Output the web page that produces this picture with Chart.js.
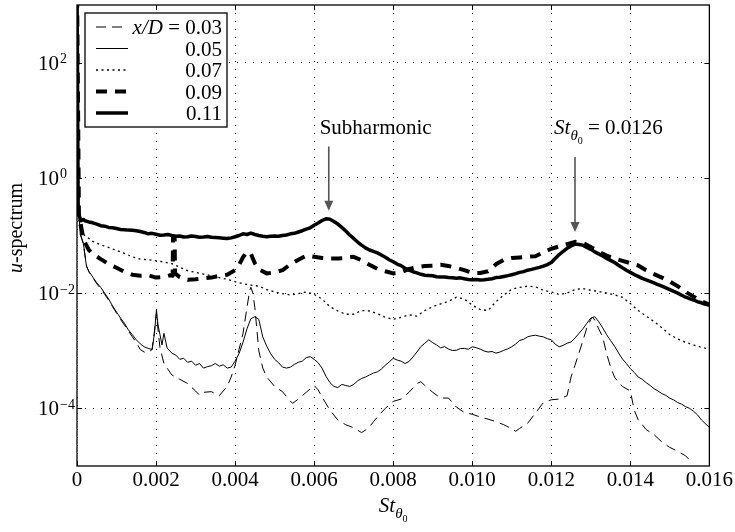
<!DOCTYPE html>
<html>
<head>
<meta charset="utf-8">
<script src="https://cdn.jsdelivr.net/npm/chart.js@4.4.1/dist/chart.umd.min.js"></script>
<style>
    html, body { margin: 0; padding: 0; background: #fff; }
</style>
</head>
<body>
<canvas id="chart" width="735" height="532"></canvas>
<script>
// u-spectra vs St_theta0 as [St, value]
const spec003 = [
    [0, 3000], [0.00004, 0.32], [0.00008, 0.105], [0.00016, 0.071], [0.00024, 0.03], [0.0003, 0.0234],
    [0.0004, 0.0186], [0.0005, 0.0145], [0.0006, 0.012], [0.0007, 0.0095], [0.0008, 0.0076], [0.0009, 0.0058],
    [0.001, 0.0045], [0.0011, 0.0035], [0.0012, 0.0028], [0.0013, 0.0022], [0.0014, 0.00174], [0.0015, 0.0014],
    [0.0016, 0.00105], [0.0017, 0.00095], [0.0018, 0.00093], [0.0019, 0.00105], [0.00196, 0.0022], [0.00201, 0.0045],
    [0.00206, 0.002], [0.0021, 0.00112], [0.0022, 0.0006], [0.0024, 0.00038], [0.0026, 0.00032], [0.0028, 0.00027],
    [0.003, 0.0002], [0.0031, 0.00017], [0.0032, 0.00019], [0.0034, 0.000195], [0.0036, 0.000166], [0.0037, 0.0002],
    [0.0038, 0.00024], [0.0039, 0.00035], [0.004, 0.00056], [0.0041, 0.00105], [0.0042, 0.002], [0.0043, 0.0056],
    [0.00437, 0.0112], [0.0044, 0.0126], [0.00445, 0.01], [0.0045, 0.0056], [0.0046, 0.001], [0.0047, 0.0005],
    [0.0048, 0.00035], [0.005, 0.00024], [0.0052, 0.000195], [0.0054, 0.000132], [0.00546, 0.000123], [0.0056, 0.000145],
    [0.0058, 0.00019], [0.006, 0.00025], [0.0061, 0.00021], [0.0062, 0.000158], [0.0064, 0.000093], [0.0066, 0.000063],
    [0.0068, 0.000052], [0.007, 0.000046], [0.0072, 0.000038], [0.0073, 0.000042], [0.0074, 0.000048], [0.0076, 0.000071],
    [0.0078, 0.0001], [0.008, 0.000132], [0.0082, 0.000145], [0.0084, 0.00019], [0.0086, 0.00027], [0.0087, 0.00029],
    [0.0088, 0.00025], [0.009, 0.00019], [0.0092, 0.000151], [0.0094, 0.000151], [0.0096, 0.000105], [0.0098, 0.000085],
    [0.01, 0.000079], [0.0102, 0.000071], [0.0104, 0.000065], [0.0106, 0.000059], [0.0108, 0.000052], [0.011, 0.000044],
    [0.0111, 0.00004], [0.0112, 0.000045], [0.0114, 0.000055], [0.0116, 0.000083], [0.0118, 0.000126], [0.012, 0.000141],
    [0.0122, 0.000145], [0.0124, 0.000166], [0.0125, 0.00035], [0.0126, 0.00056], [0.0127, 0.00091], [0.0128, 0.0015],
    [0.0129, 0.0025], [0.013, 0.0035], [0.01305, 0.0038], [0.0131, 0.0034], [0.0132, 0.0024], [0.0133, 0.00174],
    [0.0134, 0.00089], [0.0135, 0.00052], [0.0136, 0.00035], [0.0137, 0.00028], [0.0138, 0.00024], [0.014, 0.0002],
    [0.0141, 0.000093], [0.0142, 0.000063], [0.0144, 0.000043], [0.0146, 0.000035], [0.0148, 0.000026], [0.015, 0.000021],
    [0.0152, 0.000018], [0.0154, 0.000015], [0.0155, 0.0000126],
]

const spec005 = [
    [0, 3000], [0.00004, 0.32], [0.00008, 0.11], [0.00016, 0.074], [0.00024, 0.029], [0.0003, 0.024],
    [0.0004, 0.019], [0.0005, 0.0151], [0.0006, 0.0126], [0.0007, 0.01], [0.0008, 0.0079], [0.0009, 0.006],
    [0.001, 0.0047], [0.0011, 0.0037], [0.0012, 0.003], [0.0013, 0.0023], [0.0014, 0.0019], [0.0015, 0.00155],
    [0.0016, 0.00132], [0.0017, 0.00117], [0.0018, 0.0011], [0.0019, 0.00105], [0.00196, 0.002], [0.00201, 0.0051],
    [0.00205, 0.0028], [0.0021, 0.0019], [0.00215, 0.00126], [0.0022, 0.002], [0.00228, 0.00112], [0.0024, 0.00091],
    [0.0025, 0.00084], [0.0026, 0.00071], [0.0027, 0.00074], [0.0028, 0.00063], [0.0029, 0.00066], [0.003, 0.00056],
    [0.0031, 0.0006], [0.0032, 0.0005], [0.0033, 0.00053], [0.0034, 0.00055], [0.0035, 0.0006], [0.0036, 0.00054],
    [0.0037, 0.00057], [0.0038, 0.0005], [0.0039, 0.00052], [0.004, 0.00066], [0.0041, 0.00089], [0.0042, 0.0014],
    [0.0043, 0.0024], [0.0044, 0.0036], [0.0045, 0.0039], [0.0046, 0.0035], [0.0047, 0.00174], [0.0048, 0.0012],
    [0.0049, 0.00089], [0.005, 0.00071], [0.0051, 0.00062], [0.0052, 0.00052], [0.0053, 0.0005], [0.0054, 0.00052],
    [0.0055, 0.00058], [0.0056, 0.00063], [0.0057, 0.00066], [0.0058, 0.00076], [0.0059, 0.00079], [0.006, 0.00071],
    [0.0061, 0.00062], [0.0062, 0.0005], [0.0063, 0.00036], [0.0064, 0.00028], [0.0065, 0.00024], [0.0066, 0.00023],
    [0.0067, 0.00026], [0.0068, 0.00025], [0.0069, 0.00024], [0.007, 0.00026], [0.0071, 0.0003], [0.0072, 0.00033],
    [0.0073, 0.00035], [0.0074, 0.00038], [0.0075, 0.00041], [0.0076, 0.00043], [0.0077, 0.00048], [0.0078, 0.00056],
    [0.0079, 0.00064], [0.008, 0.00074], [0.0081, 0.00069], [0.0082, 0.00066], [0.0083, 0.0006], [0.0084, 0.00065],
    [0.0085, 0.00078], [0.0086, 0.00095], [0.0087, 0.00118], [0.0088, 0.00135], [0.0089, 0.00155], [0.009, 0.00138],
    [0.0091, 0.00126], [0.0092, 0.00112], [0.0093, 0.00118], [0.0094, 0.00107], [0.0095, 0.00101], [0.0096, 0.00102],
    [0.0097, 0.00109], [0.0098, 0.0011], [0.0099, 0.00106], [0.01, 0.00117], [0.0101, 0.00113], [0.0102, 0.00107],
    [0.0103, 0.00099], [0.0104, 0.00095], [0.0105, 0.00097], [0.0106, 0.00091], [0.0107, 0.00095], [0.0108, 0.00102],
    [0.0109, 0.00108], [0.011, 0.00117], [0.0111, 0.00131], [0.0112, 0.00151], [0.0113, 0.00158], [0.0114, 0.00174],
    [0.0115, 0.00182], [0.0116, 0.00186], [0.0117, 0.00179], [0.0118, 0.00174], [0.0119, 0.00162], [0.012, 0.00155],
    [0.0121, 0.0013], [0.0122, 0.00117], [0.0123, 0.00124], [0.0124, 0.00135], [0.0125, 0.00142], [0.0126, 0.00166],
    [0.0127, 0.002], [0.0128, 0.0024], [0.0129, 0.003], [0.013, 0.0037], [0.0131, 0.0039], [0.0132, 0.0032],
    [0.0133, 0.0025], [0.0134, 0.0019], [0.0135, 0.0015], [0.0136, 0.0012], [0.0137, 0.00092], [0.0138, 0.00072],
    [0.0139, 0.0006], [0.014, 0.00049], [0.0141, 0.00042], [0.0142, 0.00035], [0.0143, 0.00032], [0.0144, 0.00028],
    [0.0145, 0.00025], [0.0146, 0.00022], [0.0147, 0.0002], [0.0148, 0.00018], [0.0149, 0.000168], [0.015, 0.00015],
    [0.0151, 0.00014], [0.0152, 0.000126], [0.0153, 0.000118], [0.0154, 0.000107], [0.0155, 0.0001], [0.0156, 0.000089],
    [0.0157, 0.000077], [0.0158, 0.000063], [0.0159, 0.000054], [0.016, 0.000047],
]

const spec007 = [
    [0, 3000], [0.00005, 0.158], [0.0001, 0.112], [0.0002, 0.1], [0.0004, 0.079], [0.0006, 0.069],
    [0.0008, 0.062], [0.001, 0.055], [0.0012, 0.049], [0.0014, 0.0427], [0.0016, 0.039], [0.0018, 0.038],
    [0.002, 0.0363], [0.0022, 0.0347], [0.0024, 0.0324], [0.0026, 0.0282], [0.0028, 0.0245], [0.003, 0.0229],
    [0.0032, 0.0214], [0.0034, 0.02], [0.0036, 0.0186], [0.0038, 0.0174], [0.004, 0.0158], [0.0042, 0.0145],
    [0.0044, 0.0138], [0.0046, 0.0132], [0.0048, 0.0115], [0.005, 0.0105], [0.0052, 0.0098], [0.0054, 0.0093],
    [0.0056, 0.0098], [0.0058, 0.0105], [0.006, 0.0095], [0.0062, 0.0079], [0.0064, 0.0058], [0.0066, 0.0049],
    [0.0068, 0.0043], [0.007, 0.0043], [0.0072, 0.005], [0.0074, 0.0049], [0.0076, 0.0044], [0.0078, 0.0038],
    [0.008, 0.0035], [0.0082, 0.0038], [0.0084, 0.0042], [0.0086, 0.004], [0.0088, 0.005], [0.009, 0.0058],
    [0.0092, 0.0065], [0.0094, 0.0072], [0.0096, 0.0085], [0.0098, 0.0079], [0.01, 0.0062], [0.0102, 0.0052],
    [0.0104, 0.005], [0.0106, 0.0071], [0.0108, 0.0093], [0.011, 0.0117], [0.0112, 0.0126], [0.0114, 0.0132],
    [0.0116, 0.0129], [0.0118, 0.0112], [0.012, 0.0105], [0.0122, 0.0095], [0.0124, 0.01], [0.0126, 0.0115],
    [0.0128, 0.012], [0.013, 0.0112], [0.0132, 0.0107], [0.0134, 0.01], [0.0136, 0.0093], [0.0138, 0.0085],
    [0.014, 0.0066], [0.0142, 0.005], [0.0144, 0.004], [0.0146, 0.0032], [0.0148, 0.0025], [0.015, 0.0019],
    [0.0152, 0.0016], [0.0154, 0.0014], [0.0156, 0.00126], [0.0158, 0.00115], [0.016, 0.00107],
]

const spec009 = [
    [0, 3000], [0.00005, 0.2], [0.00008, 0.178], [0.00016, 0.089], [0.0002, 0.076], [0.0003, 0.056],
    [0.0004, 0.048], [0.0006, 0.039], [0.0008, 0.032], [0.001, 0.0275], [0.0012, 0.0234], [0.0014, 0.0209],
    [0.0016, 0.02], [0.0018, 0.0204], [0.002, 0.0186], [0.0022, 0.019], [0.00236, 0.0204], [0.00242, 0.02],
    [0.00243, 0.093], [0.00247, 0.093], [0.00248, 0.022], [0.0026, 0.019], [0.0028, 0.017], [0.003, 0.0174],
    [0.0032, 0.018], [0.0034, 0.0186], [0.0036, 0.02], [0.0038, 0.0209], [0.004, 0.025], [0.0041, 0.031],
    [0.0042, 0.042], [0.0043, 0.052], [0.0044, 0.048], [0.0045, 0.033], [0.0046, 0.026], [0.0048, 0.022],
    [0.005, 0.0229], [0.0052, 0.025], [0.0054, 0.0316], [0.0056, 0.038], [0.0058, 0.0447], [0.006, 0.0427],
    [0.0062, 0.0407], [0.0064, 0.04], [0.0066, 0.04], [0.0068, 0.0407], [0.007, 0.0427], [0.0072, 0.0372],
    [0.0074, 0.031], [0.0076, 0.0263], [0.0078, 0.024], [0.008, 0.022], [0.0082, 0.0229], [0.0084, 0.0263],
    [0.0086, 0.0282], [0.0088, 0.0295], [0.009, 0.03], [0.0092, 0.031], [0.0094, 0.0295], [0.0096, 0.0275],
    [0.0098, 0.025], [0.01, 0.0224], [0.0102, 0.0224], [0.0104, 0.024], [0.0106, 0.0316], [0.0108, 0.038],
    [0.011, 0.0407], [0.0112, 0.0417], [0.0114, 0.0427], [0.0116, 0.0437], [0.0118, 0.0513], [0.012, 0.0589],
    [0.0122, 0.0646], [0.0124, 0.0708], [0.0126, 0.0776], [0.0128, 0.0741], [0.013, 0.063], [0.0132, 0.0525],
    [0.0134, 0.0447], [0.0136, 0.04], [0.0138, 0.0363], [0.014, 0.0331], [0.0142, 0.0302], [0.0144, 0.025],
    [0.0146, 0.0214], [0.0148, 0.0186], [0.015, 0.0158], [0.0152, 0.0132], [0.0154, 0.0105], [0.0156, 0.0087],
    [0.0158, 0.0072], [0.016, 0.0063],
]

const spec011 = [
    [0, 3000], [0.00003, 0.25], [0.0001, 0.18], [0.00016, 0.19], [0.0002, 0.18], [0.0003, 0.172],
    [0.0004, 0.166], [0.0005, 0.158], [0.0006, 0.148], [0.0007, 0.145], [0.0008, 0.138], [0.0009, 0.136],
    [0.001, 0.132], [0.0011, 0.127], [0.0012, 0.126], [0.0013, 0.124], [0.0014, 0.123], [0.0015, 0.121],
    [0.0016, 0.117], [0.0017, 0.113], [0.0018, 0.107], [0.0019, 0.109], [0.002, 0.105], [0.0021, 0.101],
    [0.0022, 0.102], [0.0023, 0.104], [0.0024, 0.1], [0.0025, 0.097], [0.0026, 0.098], [0.0027, 0.094],
    [0.0028, 0.095], [0.0029, 0.098], [0.003, 0.096], [0.0031, 0.093], [0.0032, 0.094], [0.0033, 0.096],
    [0.0034, 0.093], [0.0035, 0.092], [0.0036, 0.091], [0.0037, 0.09], [0.0038, 0.089], [0.0039, 0.091],
    [0.004, 0.095], [0.0041, 0.1], [0.0042, 0.107], [0.0043, 0.104], [0.0044, 0.11], [0.0045, 0.104],
    [0.0046, 0.1], [0.0047, 0.097], [0.0048, 0.095], [0.0049, 0.097], [0.005, 0.098], [0.0051, 0.097],
    [0.0052, 0.1], [0.0053, 0.102], [0.0054, 0.107], [0.0055, 0.109], [0.0056, 0.115], [0.0057, 0.121],
    [0.0058, 0.129], [0.0059, 0.136], [0.006, 0.151], [0.0061, 0.165], [0.0062, 0.182], [0.0063, 0.195],
    [0.0064, 0.191], [0.0065, 0.175], [0.0066, 0.158], [0.0067, 0.138], [0.0068, 0.12], [0.0069, 0.102],
    [0.007, 0.089], [0.0071, 0.077], [0.0072, 0.068], [0.0073, 0.061], [0.0074, 0.056], [0.0075, 0.053],
    [0.0076, 0.05], [0.0077, 0.046], [0.0078, 0.042], [0.0079, 0.038], [0.008, 0.035], [0.0081, 0.032],
    [0.0082, 0.03], [0.0083, 0.027], [0.0084, 0.025], [0.0085, 0.0235], [0.0086, 0.0224], [0.0087, 0.0212],
    [0.0088, 0.0204], [0.0089, 0.0203], [0.009, 0.02], [0.0091, 0.0193], [0.0092, 0.019], [0.0093, 0.0191],
    [0.0094, 0.0186], [0.0095, 0.0184], [0.0096, 0.0182], [0.0097, 0.0184], [0.0098, 0.0178], [0.0099, 0.0173],
    [0.01, 0.017], [0.0101, 0.0172], [0.0102, 0.0169], [0.0103, 0.0171], [0.0104, 0.0174], [0.0105, 0.0178],
    [0.0106, 0.0186], [0.0107, 0.0189], [0.0108, 0.0195], [0.0109, 0.0201], [0.011, 0.0209], [0.0111, 0.0218],
    [0.0112, 0.0229], [0.0113, 0.0236], [0.0114, 0.025], [0.0115, 0.0258], [0.0116, 0.0269], [0.0117, 0.028],
    [0.0118, 0.0295], [0.0119, 0.0312], [0.012, 0.0339], [0.0121, 0.04], [0.0122, 0.0468], [0.0123, 0.053],
    [0.0124, 0.06], [0.0125, 0.066], [0.0126, 0.071], [0.0127, 0.07], [0.0128, 0.068], [0.0129, 0.062],
    [0.013, 0.0575], [0.0131, 0.052], [0.0132, 0.048], [0.0133, 0.044], [0.0134, 0.04], [0.0135, 0.037],
    [0.0136, 0.034], [0.0137, 0.0305], [0.0138, 0.0275], [0.0139, 0.025], [0.014, 0.0229], [0.0141, 0.021],
    [0.0142, 0.0195], [0.0143, 0.018], [0.0144, 0.017], [0.0145, 0.016], [0.0146, 0.0151], [0.0147, 0.014],
    [0.0148, 0.0132], [0.0149, 0.0123], [0.015, 0.0115], [0.0151, 0.0107], [0.0152, 0.01], [0.0153, 0.0092],
    [0.0154, 0.0085], [0.0155, 0.008], [0.0156, 0.0076], [0.0157, 0.0071], [0.0158, 0.0068], [0.0159, 0.0064],
    [0.016, 0.0062],
]

const seriesLabels = ["0.03", "0.05", "0.07", "0.09", "0.11"]

const xTicks = [0, 0.002, 0.004, 0.006, 0.008, 0.01, 0.012, 0.014, 0.016]
const xTickLabels = ["0", "0.002", "0.004", "0.006", "0.008", "0.010", "0.012", "0.014", "0.016"]
const yTicks = [1e-4, 1e-2, 1, 1e2]
const yTickExps = ["\u22124", "\u22122", "0", "2"]

// arrows: St position, start value, tip value
const arrows = [
    { st: 0.00637, from: 3.5, to: 0.27 },
    { st: 0.0126, from: 2.3, to: 0.115 },
]

const SERIF = '"Liberation Serif", "Times New Roman", serif'
const font = (size, italic) => (italic ? "italic " : "") + size + "px " + SERIF

function drawParts(ctx, parts, x, y) {
    let cx = x
    parts.forEach((p) => {
        ctx.font = font(p.size, p.italic)
        ctx.fillText(p.text, cx, y + (p.dy || 0))
        cx += ctx.measureText(p.text).width + (p.gap || 0)
    })
    return cx
}

function partsWidth(ctx, parts) {
    return parts.reduce((w, p) => {
        ctx.font = font(p.size, p.italic)
        return w + ctx.measureText(p.text).width + (p.gap || 0)
    }, 0)
}

const stParts = [
    { text: "St", size: 21, italic: true },
    { text: "\u03B8", size: 15, italic: true, dy: 6 },
    { text: "0", size: 10, dy: 10 },
]

const frame = {
    id: "frame",
    afterDatasetsDraw(chart) {
        const { ctx, chartArea: a, scales } = chart
        const x = scales.x
        const y = scales.y
        ctx.save()
        ctx.fillStyle = "#000"
        ctx.strokeStyle = "#000"
        ctx.setLineDash([])

        // box round the plot
        ctx.lineWidth = 1.3
        ctx.strokeRect(a.left, a.top, a.right - a.left, a.bottom - a.top)

        // inward tick marks on all four sides
        ctx.lineWidth = 1
        ctx.beginPath()
        xTicks.forEach((v) => {
            const px = Math.round(x.getPixelForValue(v)) + 0.5
            ctx.moveTo(px, a.bottom)
            ctx.lineTo(px, a.bottom - 5)
            ctx.moveTo(px, a.top)
            ctx.lineTo(px, a.top + 5)
        })
        yTicks.forEach((v) => {
            const py = Math.round(y.getPixelForValue(v)) + 0.5
            ctx.moveTo(a.left, py)
            ctx.lineTo(a.left + 5, py)
            ctx.moveTo(a.right, py)
            ctx.lineTo(a.right - 5, py)
        })
        ctx.stroke()

        // y tick labels 10^n
        ctx.textBaseline = "alphabetic"
        yTicks.forEach((v, i) => {
            const py = y.getPixelForValue(v)
            ctx.textAlign = "right"
            ctx.font = font(21)
            ctx.fillText("10", a.left - 18, py + 7)
            ctx.textAlign = "left"
            ctx.font = font(14)
            ctx.fillText(yTickExps[i], a.left - 17, py + 0.5)
        })

        // axis titles
        ctx.textAlign = "left"
        const mid = (a.left + a.right) / 2
        drawParts(ctx, stParts, mid - partsWidth(ctx, stParts) / 2, 512)

        ctx.save()
        ctx.translate(22, 228)
        ctx.rotate(-Math.PI / 2)
        const yTitle = [
            { text: "u", size: 20, italic: true },
            { text: "-spectrum", size: 20 },
        ]
        drawParts(ctx, yTitle, -partsWidth(ctx, yTitle) / 2, 0)
        ctx.restore()

        // arrows and their notes
        ctx.strokeStyle = "#555"
        ctx.fillStyle = "#555"
        ctx.lineWidth = 1.6
        arrows.forEach((ar) => {
            const px = x.getPixelForValue(ar.st)
            const y0 = y.getPixelForValue(ar.from)
            const y1 = y.getPixelForValue(ar.to)
            ctx.beginPath()
            ctx.moveTo(px, y0)
            ctx.lineTo(px, y1 - 8)
            ctx.stroke()
            ctx.beginPath()
            ctx.moveTo(px - 4.5, y1 - 10)
            ctx.lineTo(px + 4.5, y1 - 10)
            ctx.lineTo(px, y1)
            ctx.closePath()
            ctx.fill()
        })

        ctx.fillStyle = "#000"
        const noteY = y.getPixelForValue(7.6) + 7
        drawParts(ctx, [{ text: "Subharmonic", size: 21 }], x.getPixelForValue(0.00614), noteY)
        drawParts(
            ctx,
            [...stParts, { text: " = 0.0126", size: 21 }],
            x.getPixelForValue(0.01207),
            noteY
        )

        // legend
        const lx = a.left + 8
        const ly = a.top + 8
        const lw = 142
        const lh = 114
        ctx.fillStyle = "#fff"
        ctx.fillRect(lx, ly, lw, lh)
        ctx.strokeStyle = "#000"
        ctx.lineWidth = 1.3
        ctx.strokeRect(lx, ly, lw, lh)
        chart.data.datasets.forEach((ds, i) => {
            const ry = ly + 14 + i * 21.5
            ctx.strokeStyle = "#000"
            ctx.lineWidth = ds.borderWidth
            ctx.setLineDash(ds.borderDash || [])
            ctx.beginPath()
            ctx.moveTo(lx + 11, ry)
            ctx.lineTo(lx + 43, ry)
            ctx.stroke()
            ctx.setLineDash([])
            ctx.fillStyle = "#000"
            const parts =
                i == 0
                    ? [
                          { text: "x/D", size: 21, italic: true },
                          { text: " = " + ds.label, size: 21 },
                      ]
                    : [{ text: ds.label, size: 21 }]
            drawParts(ctx, parts, lx + lw - 5 - partsWidth(ctx, parts), ry + 7)
        })

        ctx.restore()
    },
}

const lineStyles = [
    { borderWidth: 1, borderDash: [10, 6] },
    { borderWidth: 1, borderDash: [] },
    { borderWidth: 1.3, borderDash: [2, 3.5] },
    { borderWidth: 4, borderDash: [11, 8] },
    { borderWidth: 3.5, borderDash: [] },
]

const datasets = [spec003, spec005, spec007, spec009, spec011].map((spec, i) => ({
    label: seriesLabels[i],
    data: spec.map((p) => ({ x: p[0], y: p[1] })),
    borderColor: "#000",
    borderWidth: lineStyles[i].borderWidth,
    borderDash: lineStyles[i].borderDash,
    borderJoinStyle: "round",
    pointRadius: 0,
    fill: false,
}))

Chart.defaults.font.family = SERIF
Chart.defaults.color = "#000"

new Chart(document.getElementById("chart").getContext("2d"), {
    type: "line",
    data: { datasets },
    plugins: [frame],
    options: {
        responsive: false,
        animation: false,
        devicePixelRatio: 1,
        layout: { padding: { top: 5, right: 24, left: 0, bottom: 0 } },
        elements: { line: { tension: 0 } },
        plugins: {
            legend: { display: false },
            tooltip: { enabled: false },
        },
        scales: {
            x: {
                type: "linear",
                min: 0,
                max: 0.016,
                afterBuildTicks: (s) => {
                    s.ticks = xTicks.map((v) => ({ value: v }))
                },
                afterFit: (s) => {
                    s.height = 66
                },
                ticks: {
                    autoSkip: false,
                    maxRotation: 0,
                    padding: 2,
                    font: { size: 21 },
                    callback: (v, i) => xTickLabels[i],
                },
                grid: { color: "#000", lineWidth: 1, drawTicks: false },
                border: { display: false, dash: [1, 7] },
            },
            y: {
                type: "logarithmic",
                min: 1e-5,
                max: 1e3,
                afterBuildTicks: (s) => {
                    s.ticks = yTicks.map((v) => ({ value: v }))
                },
                afterFit: (s) => {
                    s.width = 77
                },
                ticks: { display: false },
                grid: { color: "#000", lineWidth: 1, drawTicks: false },
                border: { display: false, dash: [1, 7] },
            },
        },
    },
})
</script>
</body>
</html>
